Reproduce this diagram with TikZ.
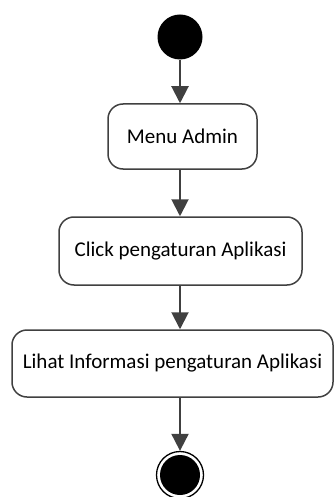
\documentclass[tikz,border=0pt]{standalone}
\usepackage{fontspec}
\setmainfont{Carlito}
\usetikzlibrary{arrows.meta}
\definecolor{edge}{HTML}{404040}
\begin{document}
\begin{tikzpicture}[x=1pt,y=-1pt,
  act/.style={draw=edge, line width=1.5pt, rounded corners=15pt, fill=white,
    font=\fontsize{21}{24}\selectfont, text=black, inner sep=0pt},
  flow/.style={draw=edge, line width=2pt, -{Triangle[length=17pt,width=17pt]}}]
\useasboundingbox (0,0) rectangle (334,497);
\node[circle, fill=black, minimum size=45pt, inner sep=0pt] (start) at (180,37) {};
\node[act, minimum width=149pt, minimum height=65pt] (a1) at (182.5,136.5) {Menu Admin};
\node[act, minimum width=243pt, minimum height=68pt] (a2) at (180.5,251) {Click pengaturan Aplikasi};
\node[act, minimum width=321pt, minimum height=67pt] (a3) at (172.5,363.5) {Lihat Informasi pengaturan Aplikasi};
\node[circle, draw=black, line width=1.3pt, fill=white, minimum size=47pt, inner sep=0pt] (end) at (180,475) {};
\node[circle, fill=black, minimum size=40pt, inner sep=0pt] (endin) at (end) {};
\draw[flow] (start.south) -- (start.south |- a1.north);
\draw[flow] (start.south |- a1.south) -- (start.south |- a2.north);
\draw[flow] (start.south |- a2.south) -- (start.south |- a3.north);
\draw[flow] (start.south |- a3.south) -- (end.north);
\end{tikzpicture}
\end{document}
